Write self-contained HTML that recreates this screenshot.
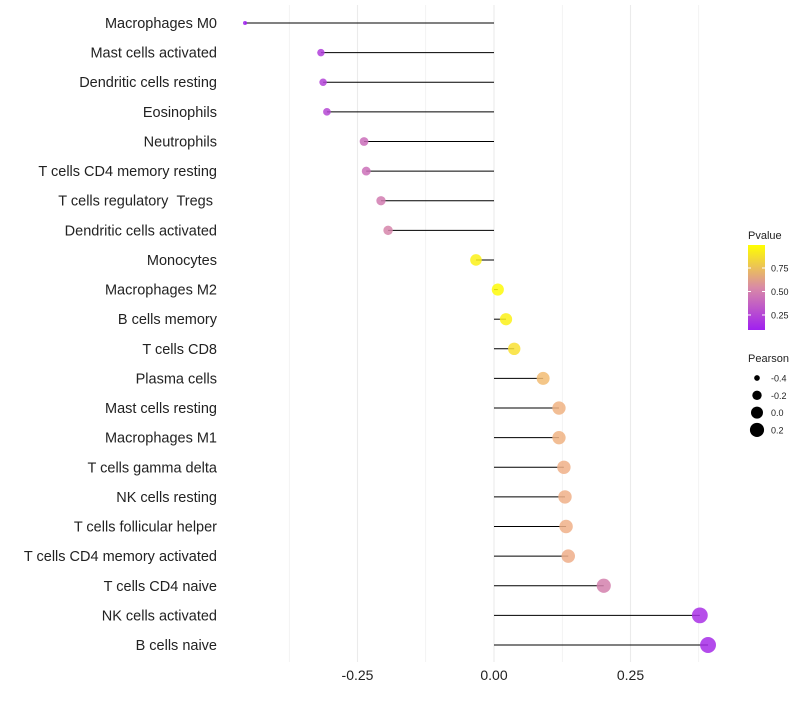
<!DOCTYPE html>
<html><head><meta charset="utf-8"><style>
body{margin:0;background:#fff;font-family:"Liberation Sans",sans-serif}
</style></head><body>
<svg id="c" width="800" height="700" xmlns="http://www.w3.org/2000/svg">
<defs><linearGradient id="pg" x1="0" y1="1" x2="0" y2="0">
<stop offset="0" stop-color="#a020f0"/><stop offset="0.5" stop-color="#d98aa6"/><stop offset="1" stop-color="#ffff00"/>
</linearGradient></defs>
</svg>
<script>
const categories=["Macrophages M0","Mast cells activated","Dendritic cells resting","Eosinophils","Neutrophils","T cells CD4 memory resting","T cells regulatory\u00a0\u00a0Tregs\u00a0","Dendritic cells activated","Monocytes","Macrophages M2","B cells memory","T cells CD8","Plasma cells","Mast cells resting","Macrophages M1","T cells gamma delta","NK cells resting","T cells follicular helper","T cells CD4 memory activated","T cells CD4 naive","NK cells activated","B cells naive"];
const pearson=[-0.456,-0.317,-0.313,-0.306,-0.238,-0.234,-0.207,-0.194,-0.033,0.007,0.022,0.037,0.090,0.119,0.119,0.128,0.130,0.132,0.136,0.201,0.377,0.392];
const pvalues=[0.05,0.22,0.24,0.26,0.42,0.43,0.48,0.52,0.95,0.98,0.95,0.9,0.78,0.75,0.75,0.74,0.74,0.74,0.73,0.5,0.16,0.14];
const xTicks=[-0.25,0,0.25];
const xTickLabels=["-0.25","0.00","0.25"];
const pTicks=[0.25,0.5,0.75];
const sizeTicks=[-0.4,-0.2,0.0,0.2];
const NS="http://www.w3.org/2000/svg",svg=document.getElementById('c');
function mk(t,a,p){const e=document.createElementNS(NS,t);for(const k in a)e.setAttribute(k,a[k]);(p||svg).appendChild(e);return e;}
const x=v=>494+v*546;
const y=i=>23+i*(622/21);
const r=v=>Math.sqrt(Math.max(2.5,36+70*v));
function hx(h){return [1,3,5].map(i=>parseInt(h.substr(i,2),16));}
const stops=[[0,hx("#a020f0")],[0.5,hx("#d98aa6")],[0.72,hx("#f0b088")],[1,hx("#ffff00")]];
const pLo=0.09,pHi=0.995;
function col(p){let t=Math.max(0,Math.min(1,(p-pLo)/(pHi-pLo)));let a=0;while(a<stops.length-2&&t>stops[a+1][0])a++;let s0=stops[a],s1=stops[a+1];let u=(t-s0[0])/(s1[0]-s0[0]);return "rgb("+s0[1].map((c,i)=>Math.round(c+(s1[1][i]-c)*u)).join(",")+")";}
[-0.375,-0.25,-0.125,0,0.125,0.25,0.375].forEach(v=>{const g=mk('line',{x1:x(v),x2:x(v),y1:5,y2:662,stroke:'#ebebeb','stroke-width':v*8%2==0?1.1:0.6});

});
xTicks.forEach((v,i)=>{const t=mk('text',{x:x(v),y:680,'text-anchor':'middle','font-size':14,fill:'#222'});t.textContent=xTickLabels[i];

});
categories.forEach((c,i)=>{
const t=mk('text',{x:217,y:y(i)+5,'text-anchor':'end','font-size':14.5,fill:'#222'});t.textContent=c;


const l=mk('line',{x1:x(0),x2:x(pearson[i]),y1:y(i),y2:y(i),stroke:'#000','stroke-width':1});


const d=mk('circle',{cx:x(pearson[i]),cy:y(i),r:r(pearson[i]),fill:col(pvalues[i]),'fill-opacity':0.85});


});
let tt=mk('text',{x:748,y:239,'font-size':11,fill:'#222'});tt.textContent='Pvalue';


const bar=mk('rect',{x:748,y:245,width:17,height:85,fill:'url(#pg)'});


const py=p=>330-(p-pLo)/(pHi-pLo)*85;
pTicks.forEach(p=>{mk('line',{x1:748,x2:751,y1:py(p),y2:py(p),stroke:'#fff'});mk('line',{x1:762,x2:765,y1:py(p),y2:py(p),stroke:'#fff'});
const t=mk('text',{x:771,y:py(p)+3.5,'font-size':9,fill:'#222'});t.textContent=p.toFixed(2);

});
tt=mk('text',{x:748,y:362,'font-size':11,fill:'#222'});tt.textContent='Pearson';


sizeTicks.forEach((v,i)=>{const cy=378+i*17.3;
const d=mk('circle',{cx:757,cy:cy,r:r(v),fill:'#000'});


const t=mk('text',{x:771,y:cy+3.5,'font-size':9,fill:'#222'});t.textContent=v.toFixed(1);

});
</script>
</body></html>
